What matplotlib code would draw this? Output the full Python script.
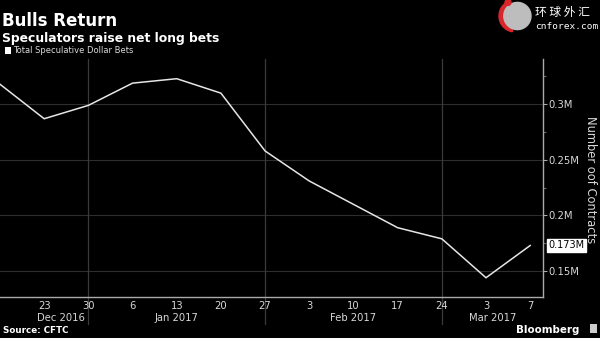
import matplotlib
matplotlib.use("Agg")
import matplotlib.pyplot as plt
from matplotlib.patches import Rectangle, Circle, Wedge
import matplotlib.transforms as mtransforms

# 每週投機淨多頭 (百萬口)
day_labels = ["", "23", "30", "6", "13", "20", "27", "3", "10", "17", "24", "3", "7"]
net_long = [0.318, 0.287, 0.299, 0.319, 0.323, 0.310, 0.258, 0.231, 0.210, 0.189, 0.179, 0.144, 0.173]
months = ["Dec 2016", "Jan 2017", "Feb 2017", "Mar 2017"]
month_centers = [1.38, 4.0, 8.0, 11.15]
month_ends = [2, 6, 10]   # 每月最後一週的位置
y_ticks = [0.15, 0.2, 0.25, 0.3]
y_minor = [0.175, 0.225, 0.275, 0.325]

bg = "black"
fg = "#d8d8d8"
grid_c = "#2e2e2e"

fig = plt.figure(figsize=(6, 3.38), dpi=100, facecolor=bg)
ax = fig.add_axes([0, 0.1204, 0.905, 0.705], facecolor=bg)

x = list(range(len(net_long)))
ax.plot(x, net_long, color="#e6e6e6", lw=1.1, solid_joinstyle="miter", zorder=3)

ax.set_xlim(0, 12.29)
ax.set_ylim(0.1264, 0.3407)

# 右側 y 軸
ax.yaxis.tick_right()
ax.set_yticks(y_ticks)
ax.set_yticklabels([f"{v:g}M" for v in y_ticks])
ax.set_yticks(y_minor, minor=True)
ax.tick_params(axis="y", which="major", colors="#aaaaaa", labelcolor=fg,
               labelsize=7.2, length=3, width=0.8, pad=1, direction="out")
ax.tick_params(axis="y", which="minor", colors="#666666", length=2, width=0.8)
for v in y_ticks:
    ax.axhline(v, color=grid_c, lw=0.8, zorder=1)

# x 軸：週日期
ax.set_xticks(x)
ax.set_xticklabels(day_labels)
ax.tick_params(axis="x", colors="#888888", labelcolor=fg, labelsize=7.2,
               length=0, width=0.8, pad=2.5)

for s in ["top", "left"]:
    ax.spines[s].set_visible(False)
ax.spines["right"].set_color("#aaaaaa")
ax.spines["bottom"].set_color("#aaaaaa")
ax.spines["right"].set_linewidth(1.0)
ax.spines["bottom"].set_linewidth(1.0)

# 月份分隔線
for m in month_ends:
    ax.axvline(m, ymin=-0.11, ymax=1, color="#3a3a3a", lw=0.9,
               clip_on=False, zorder=1)

trans = mtransforms.blended_transform_factory(ax.transData, ax.transAxes)
for name, c in zip(months, month_centers):
    ax.text(c, -0.085, name, transform=trans, ha="center", va="center",
            color=fg, fontsize=7.2)

# 最新值標籤
ax.annotate(f"{net_long[-1]:.3f}M", xy=(1.0, net_long[-1]),
            xycoords=("axes fraction", "data"), xytext=(4, 0),
            textcoords="offset points", ha="left", va="center",
            fontsize=7.0, color="black", annotation_clip=False,
            bbox=dict(boxstyle="square,pad=0.12", fc="white", ec="white"))

fig.text(0.984, 0.47, "Number oof Contracts", rotation=270, ha="center",
         va="center", color=fg, fontsize=8.3)

# 標題
fig.text(0.004, 0.965, "Bulls Return", color="white", fontsize=12,
         fontweight="bold", ha="left", va="top")
fig.text(0.004, 0.905, "Speculators raise net long bets", color="white",
         fontsize=8.9, fontweight="bold", ha="left", va="top")
fig.patches.append(Rectangle((0.009, 0.84), 0.0095, 0.02, transform=fig.transFigure,
                             facecolor="white", edgecolor="none"))
fig.text(0.022, 0.851, "Total Speculative Dollar Bets", color=fg, fontsize=6.0,
         ha="left", va="center")

# 頁尾
fig.text(0.005, 0.023, "Source: CFTC", color="white", fontsize=6.3,
         fontweight="bold", ha="left", va="center")
fig.text(0.966, 0.023, "Bloomberg", color="white", fontsize=7.4,
         fontweight="bold", ha="right", va="center")
fig.patches.append(Rectangle((0.983, 0.015), 0.012, 0.025, transform=fig.transFigure,
                             facecolor="#cccccc", edgecolor="none"))

# 右上角標誌
logo_ax = fig.add_axes([495 / 600, (338 - 36) / 338, 40 / 600, 40 / 338], facecolor="none")
logo_ax.set_xlim(-1, 1)
logo_ax.set_ylim(-1, 1)
logo_ax.set_aspect("equal")
logo_ax.axis("off")
logo_ax.add_patch(Wedge((0, 0), 0.8, 110, 260, width=0.28, color="#d8262c"))
logo_ax.add_patch(Circle((0.12, 0), 0.68, color="#bdbdbd"))
logo_ax.add_patch(Circle((-0.35, 0.68), 0.15, color="#d8262c"))
fig.text(0.892, 0.962, "环 球 外 汇", color="white", fontsize=8.5,
         family=["Noto Sans CJK SC", "DejaVu Sans"], ha="left", va="center")
fig.text(0.892, 0.922, "cnforex.com", color="white", fontsize=6.8,
         family="DejaVu Sans Mono", ha="left", va="center")

fig.savefig("out.png", dpi=100, facecolor=bg)
